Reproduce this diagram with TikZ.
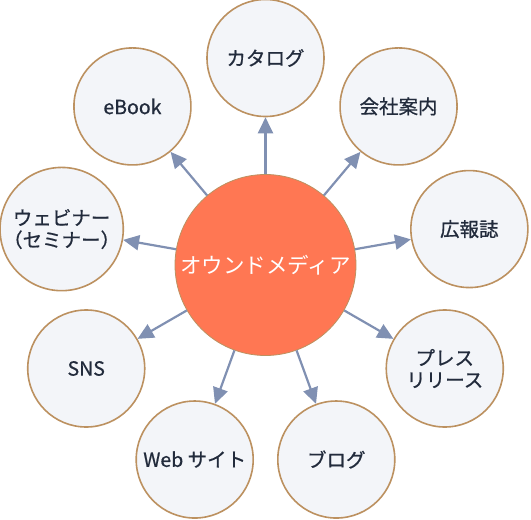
\documentclass[tikz,border=0pt]{standalone}
\usepackage{fontspec}
\setmainfont{Noto Sans CJK JP}
\newfontfamily\labelfont{Noto Sans CJK JP}[FakeBold=0.7]
\usepackage{xcolor}
\usepackage{tikz}
\usetikzlibrary{arrows.meta}
\usetikzlibrary{calc}
\definecolor{coral}{HTML}{FF7753}
\definecolor{paleblue}{HTML}{F3F5F9}
\definecolor{tan}{HTML}{BC9160}
\definecolor{slateblue}{HTML}{8090B2}
\definecolor{ink}{HTML}{222B3C}
\tikzstyle{item} = [circle, draw=tan, line width=1.6pt,
	fill=paleblue, text=ink,
	minimum size=117pt, inner sep=0pt,
	align=center,
	font=\labelfont\fontsize{19.5pt}{22pt}\selectfont]
\tikzstyle{hub} = [circle, draw=tan, line width=0.8pt,
	fill=coral, text=white,
	minimum size=181pt, inner sep=0pt,
	font=\fontsize{21.5pt}{24pt}\selectfont]
\tikzstyle{arrow} = [-{Triangle[length=16pt, width=15pt]}, line width=2.2pt, draw=slateblue, fill=slateblue]

\begin{document}
\begin{tikzpicture}
		
			\useasboundingbox (0,0) rectangle (531pt,-520pt);
			
			\node (media) [hub] at (265.5pt,-265pt) {オウンドメディア};
			
			\node (catalog) [item] at ($(media) + (90:207pt)$) {カタログ};
			\node (company) [item] at ($(media) + (50:207pt)$) {会社案内};
			\node (pr) [item] at ($(media) + (10:207pt)$) {広報誌};
			\node (release) [item] at ($(media) + (-30:207pt)$) {プレス\\リリース};
			\node (blog) [item] at ($(media) + (-70:207pt)$) {ブログ};
			\node (web) [item] at ($(media) + (-110:207pt)$) {Web サイト};
			\node (sns) [item] at ($(media) + (-150:207pt)$) {SNS};
			\node (webinar) [item] at ($(media) + (170:207pt)$) {ウェビナー\\（セミナー）};
			\node (ebook) [item] at ($(media) + (130:207pt)$) {eBook};
			
			\draw [arrow] (media) -- (catalog);
			\draw [arrow] (media) -- (company);
			\draw [arrow] (media) -- (pr);
			\draw [arrow] (media) -- (release);
			\draw [arrow] (media) -- (blog);
			\draw [arrow] (media) -- (web);
			\draw [arrow] (media) -- (sns);
			\draw [arrow] (media) -- (webinar);
			\draw [arrow] (media) -- (ebook);
		\end{tikzpicture}
\end{document}
